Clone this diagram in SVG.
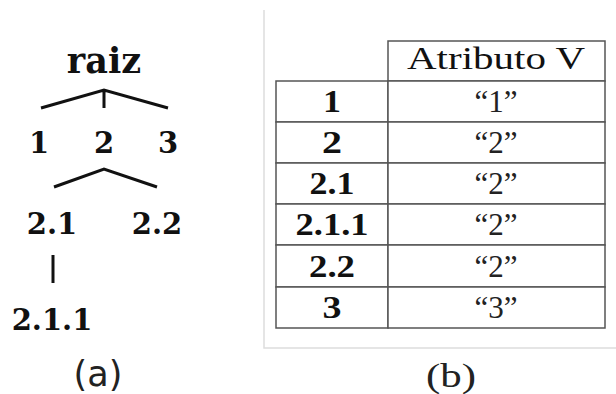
<svg xmlns="http://www.w3.org/2000/svg" width="616" height="394" viewBox="0 0 616 394">
<style>
.t{font-family:"DejaVu Serif",serif;font-weight:bold;font-size:29px;fill:#111;text-anchor:middle}
.r{font-size:35px}
.e{stroke:#111;stroke-width:3;fill:none;stroke-linecap:butt}
.c{fill:#fff;stroke:#555;stroke-width:1.5}
.h{font-family:"Liberation Serif",serif;font-size:32px;fill:#111;text-anchor:middle}
.l{font-family:"Liberation Serif",serif;font-weight:bold;font-size:31px;fill:#111;text-anchor:middle}
.v{font-family:"Liberation Serif",serif;font-size:31px;fill:#222;text-anchor:middle}
</style>
<rect width="616" height="394" fill="#fff"/>
<g id="connectors">
<path class="e" d="M41,108 L104,90 L168,108 M104,90 V108"/>
<path class="e" d="M54,187 L104,169 L157,187"/>
<path class="e" d="M53,255 V283"/>
</g>
<g id="n-raiz"><text class="t r" x="104" y="73">raiz</text></g>
<g id="n-1"><text class="t" x="39" y="153">1</text></g>
<g id="n-2"><text class="t" x="104" y="153">2</text></g>
<g id="n-3"><text class="t" x="168" y="153">3</text></g>
<g id="n-2.1"><text class="t" x="52" y="234">2.1</text></g>
<g id="n-2.2"><text class="t" x="157" y="234">2.2</text></g>
<g id="n-2.1.1"><text class="t" x="52" y="330">2.1.1</text></g>
<text x="98" y="386" font-family="DejaVu Sans,sans-serif" font-size="35" text-anchor="middle" fill="#222">(a)</text>
<g id="table">
<path d="M264,10 V348 H616" stroke="#ddd" stroke-width="1.5" fill="none"/>
<rect class="c" x="388" y="41" width="217" height="40"/>
<rect class="c" x="276" y="81" width="112" height="41"/>
<rect class="c" x="388" y="81" width="217" height="41"/>
<rect class="c" x="276" y="122" width="112" height="41"/>
<rect class="c" x="388" y="122" width="217" height="41"/>
<rect class="c" x="276" y="163" width="112" height="41"/>
<rect class="c" x="388" y="163" width="217" height="41"/>
<rect class="c" x="276" y="204" width="112" height="41"/>
<rect class="c" x="388" y="204" width="217" height="41"/>
<rect class="c" x="276" y="245" width="112" height="42"/>
<rect class="c" x="388" y="245" width="217" height="42"/>
<rect class="c" x="276" y="287" width="112" height="41"/>
<rect class="c" x="388" y="287" width="217" height="41"/>
<text class="h" x="496" y="69" textLength="178" lengthAdjust="spacingAndGlyphs">Atributo V</text>
<text class="l" x="332" y="112" textLength="18" lengthAdjust="spacingAndGlyphs">1</text><text class="v" x="496" y="112">“1”</text>
<text class="l" x="332" y="153" textLength="20" lengthAdjust="spacingAndGlyphs">2</text><text class="v" x="496" y="153">“2”</text>
<text class="l" x="332" y="194" textLength="45" lengthAdjust="spacingAndGlyphs">2.1</text><text class="v" x="496" y="194">“2”</text>
<text class="l" x="332" y="235" textLength="73" lengthAdjust="spacingAndGlyphs">2.1.1</text><text class="v" x="496" y="235">“2”</text>
<text class="l" x="332" y="277" textLength="46" lengthAdjust="spacingAndGlyphs">2.2</text><text class="v" x="496" y="277">“2”</text>
<text class="l" x="332" y="318" textLength="19" lengthAdjust="spacingAndGlyphs">3</text><text class="v" x="496" y="318">“3”</text>
</g>
<text x="451" y="387" font-family="Liberation Serif,serif" font-size="34" text-anchor="middle" fill="#222" textLength="50" lengthAdjust="spacingAndGlyphs">(b)</text>
</svg>
